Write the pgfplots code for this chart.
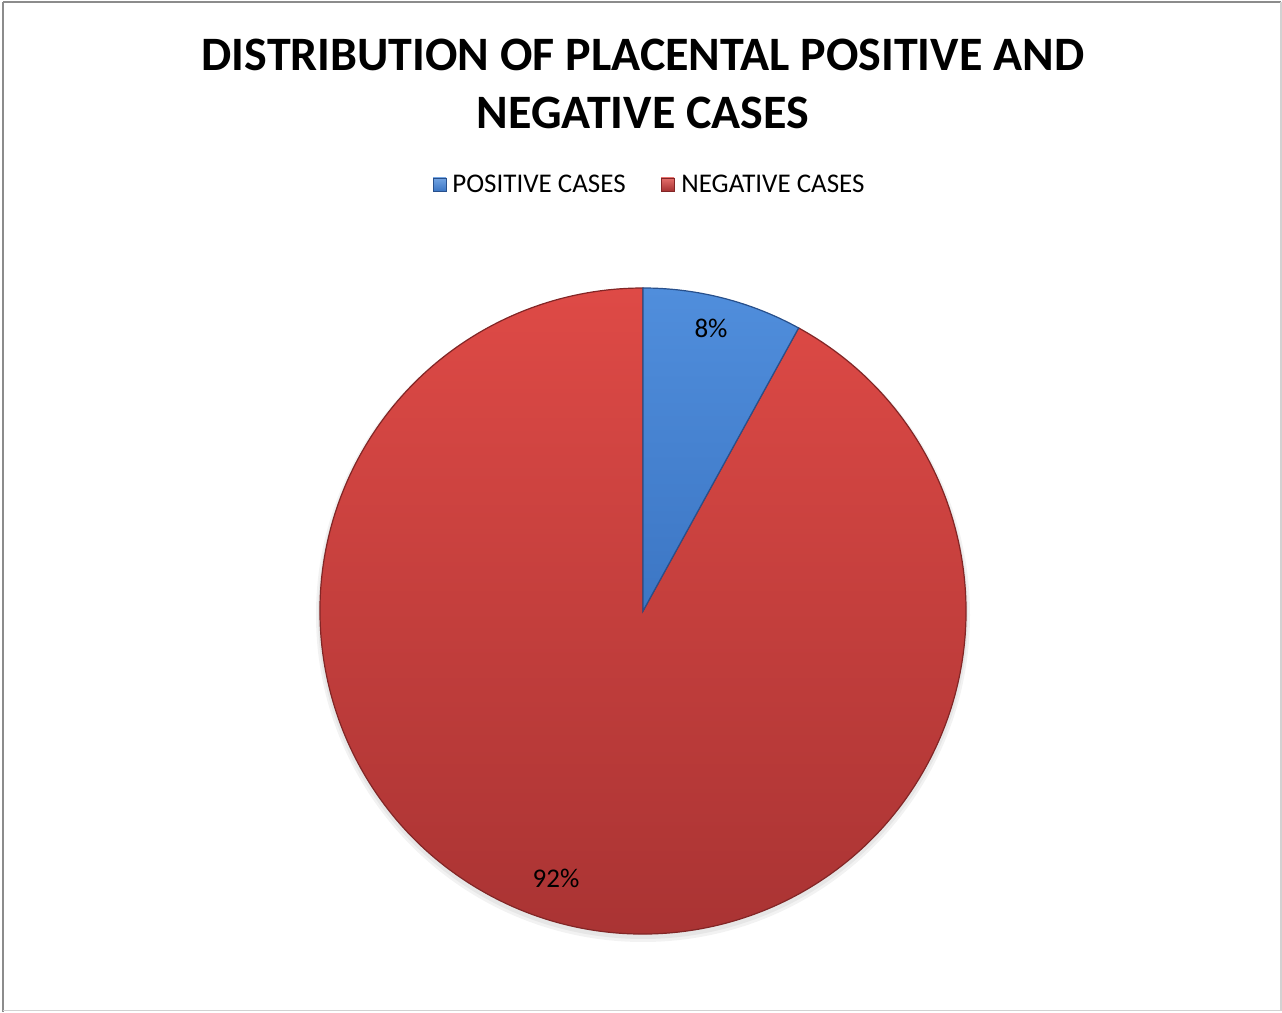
\documentclass[border=0pt]{standalone}
\usepackage{pgfplots}
\pgfplotsset{compat=1.18}
\usepackage{pgfplotstable}
\usepackage{fontspec}
\setmainfont{Carlito}

\definecolor{redtop}{RGB}{222,74,70}
\definecolor{redbot}{RGB}{166,50,50}
\definecolor{rededge}{RGB}{130,38,38}
\definecolor{bluetop}{RGB}{80,142,220}
\definecolor{bluebot}{RGB}{60,118,196}
\definecolor{blueedge}{RGB}{40,80,140}
\definecolor{framegray}{RGB}{140,140,140}

% share of each group (percent) and where its label sits
\pgfplotstableread{
value labx laby
8     711  684
92    556  134
}\piedata

\begin{document}
\begin{tikzpicture}
\pgfplotstablegetelem{0}{value}\of\piedata \xdef\vPos{\pgfplotsretval}
\pgfplotstablegetelem{1}{value}\of\piedata \xdef\vNeg{\pgfplotsretval}
\pgfplotstablegetelem{0}{labx}\of\piedata \xdef\lxPos{\pgfplotsretval}
\pgfplotstablegetelem{0}{laby}\of\piedata \xdef\lyPos{\pgfplotsretval}
\pgfplotstablegetelem{1}{labx}\of\piedata \xdef\lxNeg{\pgfplotsretval}
\pgfplotstablegetelem{1}{laby}\of\piedata \xdef\lyNeg{\pgfplotsretval}
% slices run clockwise from twelve o'clock
\pgfmathsetmacro\aStart{90}
\pgfmathsetmacro\aMid{90-3.6*\vPos}
\pgfmathsetmacro\aEnd{\aMid-3.6*\vNeg}
\xdef\aStart{\aStart}\xdef\aMid{\aMid}\xdef\aEnd{\aEnd}
\def\R{161.5pt}
\begin{axis}[
  scale only axis, width=641pt, height=506pt,
  xmin=0, xmax=1282, ymin=0, ymax=1012,
  hide axis, clip=false,
]
\path (axis cs:0,0) rectangle (axis cs:1282,1012);
% chart frame
\draw[framegray, line width=1pt] (axis cs:3,1009.5) -- (axis cs:1280.5,1009.5);
\draw[framegray, line width=1pt] (axis cs:3,1009.5) -- (axis cs:3,0);
\draw[gray!35, line width=0.8pt] (axis cs:1281,1009.5) -- (axis cs:1281,1.5) -- (axis cs:3,1.5);

% title
\node[font=\fontsize{24}{29}\selectfont\bfseries, align=center] at (axis cs:643,928)
  {DISTRIBUTION OF PLACENTAL POSITIVE AND\\NEGATIVE CASES};

% legend
\shade[top color=bluetop!80!white, bottom color=bluebot, draw=blueedge, line width=0.3pt]
  (axis cs:433,821) rectangle (axis cs:446,834);
\node[anchor=west, font=\fontsize{13.5}{16}\selectfont, inner sep=0pt] at (axis cs:452,828) {POSITIVE CASES};
\shade[top color=redtop!80!white, bottom color=redbot, draw=rededge, line width=0.3pt]
  (axis cs:661,821) rectangle (axis cs:674,834);
\node[anchor=west, font=\fontsize{13.5}{16}\selectfont, inner sep=0pt] at (axis cs:681,828) {NEGATIVE CASES};

% soft shadow beneath the pie
\fill[black, opacity=0.05] (axis cs:643,397) circle[radius=163.5pt];
\fill[black, opacity=0.05] (axis cs:643,398) circle[radius=162.5pt];

% negative slice
\shade[top color=redtop, bottom color=redbot, draw=rededge, line width=0.6pt]
  (axis cs:643,401) -- ++(\aMid:\R) arc[start angle=\aMid, end angle=\aEnd, radius=\R] -- cycle;
% positive slice
\shade[top color=bluetop, bottom color=bluebot, draw=blueedge, line width=0.6pt]
  (axis cs:643,401) -- ++(\aStart:\R) arc[start angle=\aStart, end angle=\aMid, radius=\R] -- cycle;

% data labels
\node[font=\fontsize{13.5}{16}\selectfont] at (axis cs:\lxPos,\lyPos) {\vPos\%};
\node[font=\fontsize{13.5}{16}\selectfont] at (axis cs:\lxNeg,\lyNeg) {\vNeg\%};
\end{axis}
\end{tikzpicture}
\end{document}
